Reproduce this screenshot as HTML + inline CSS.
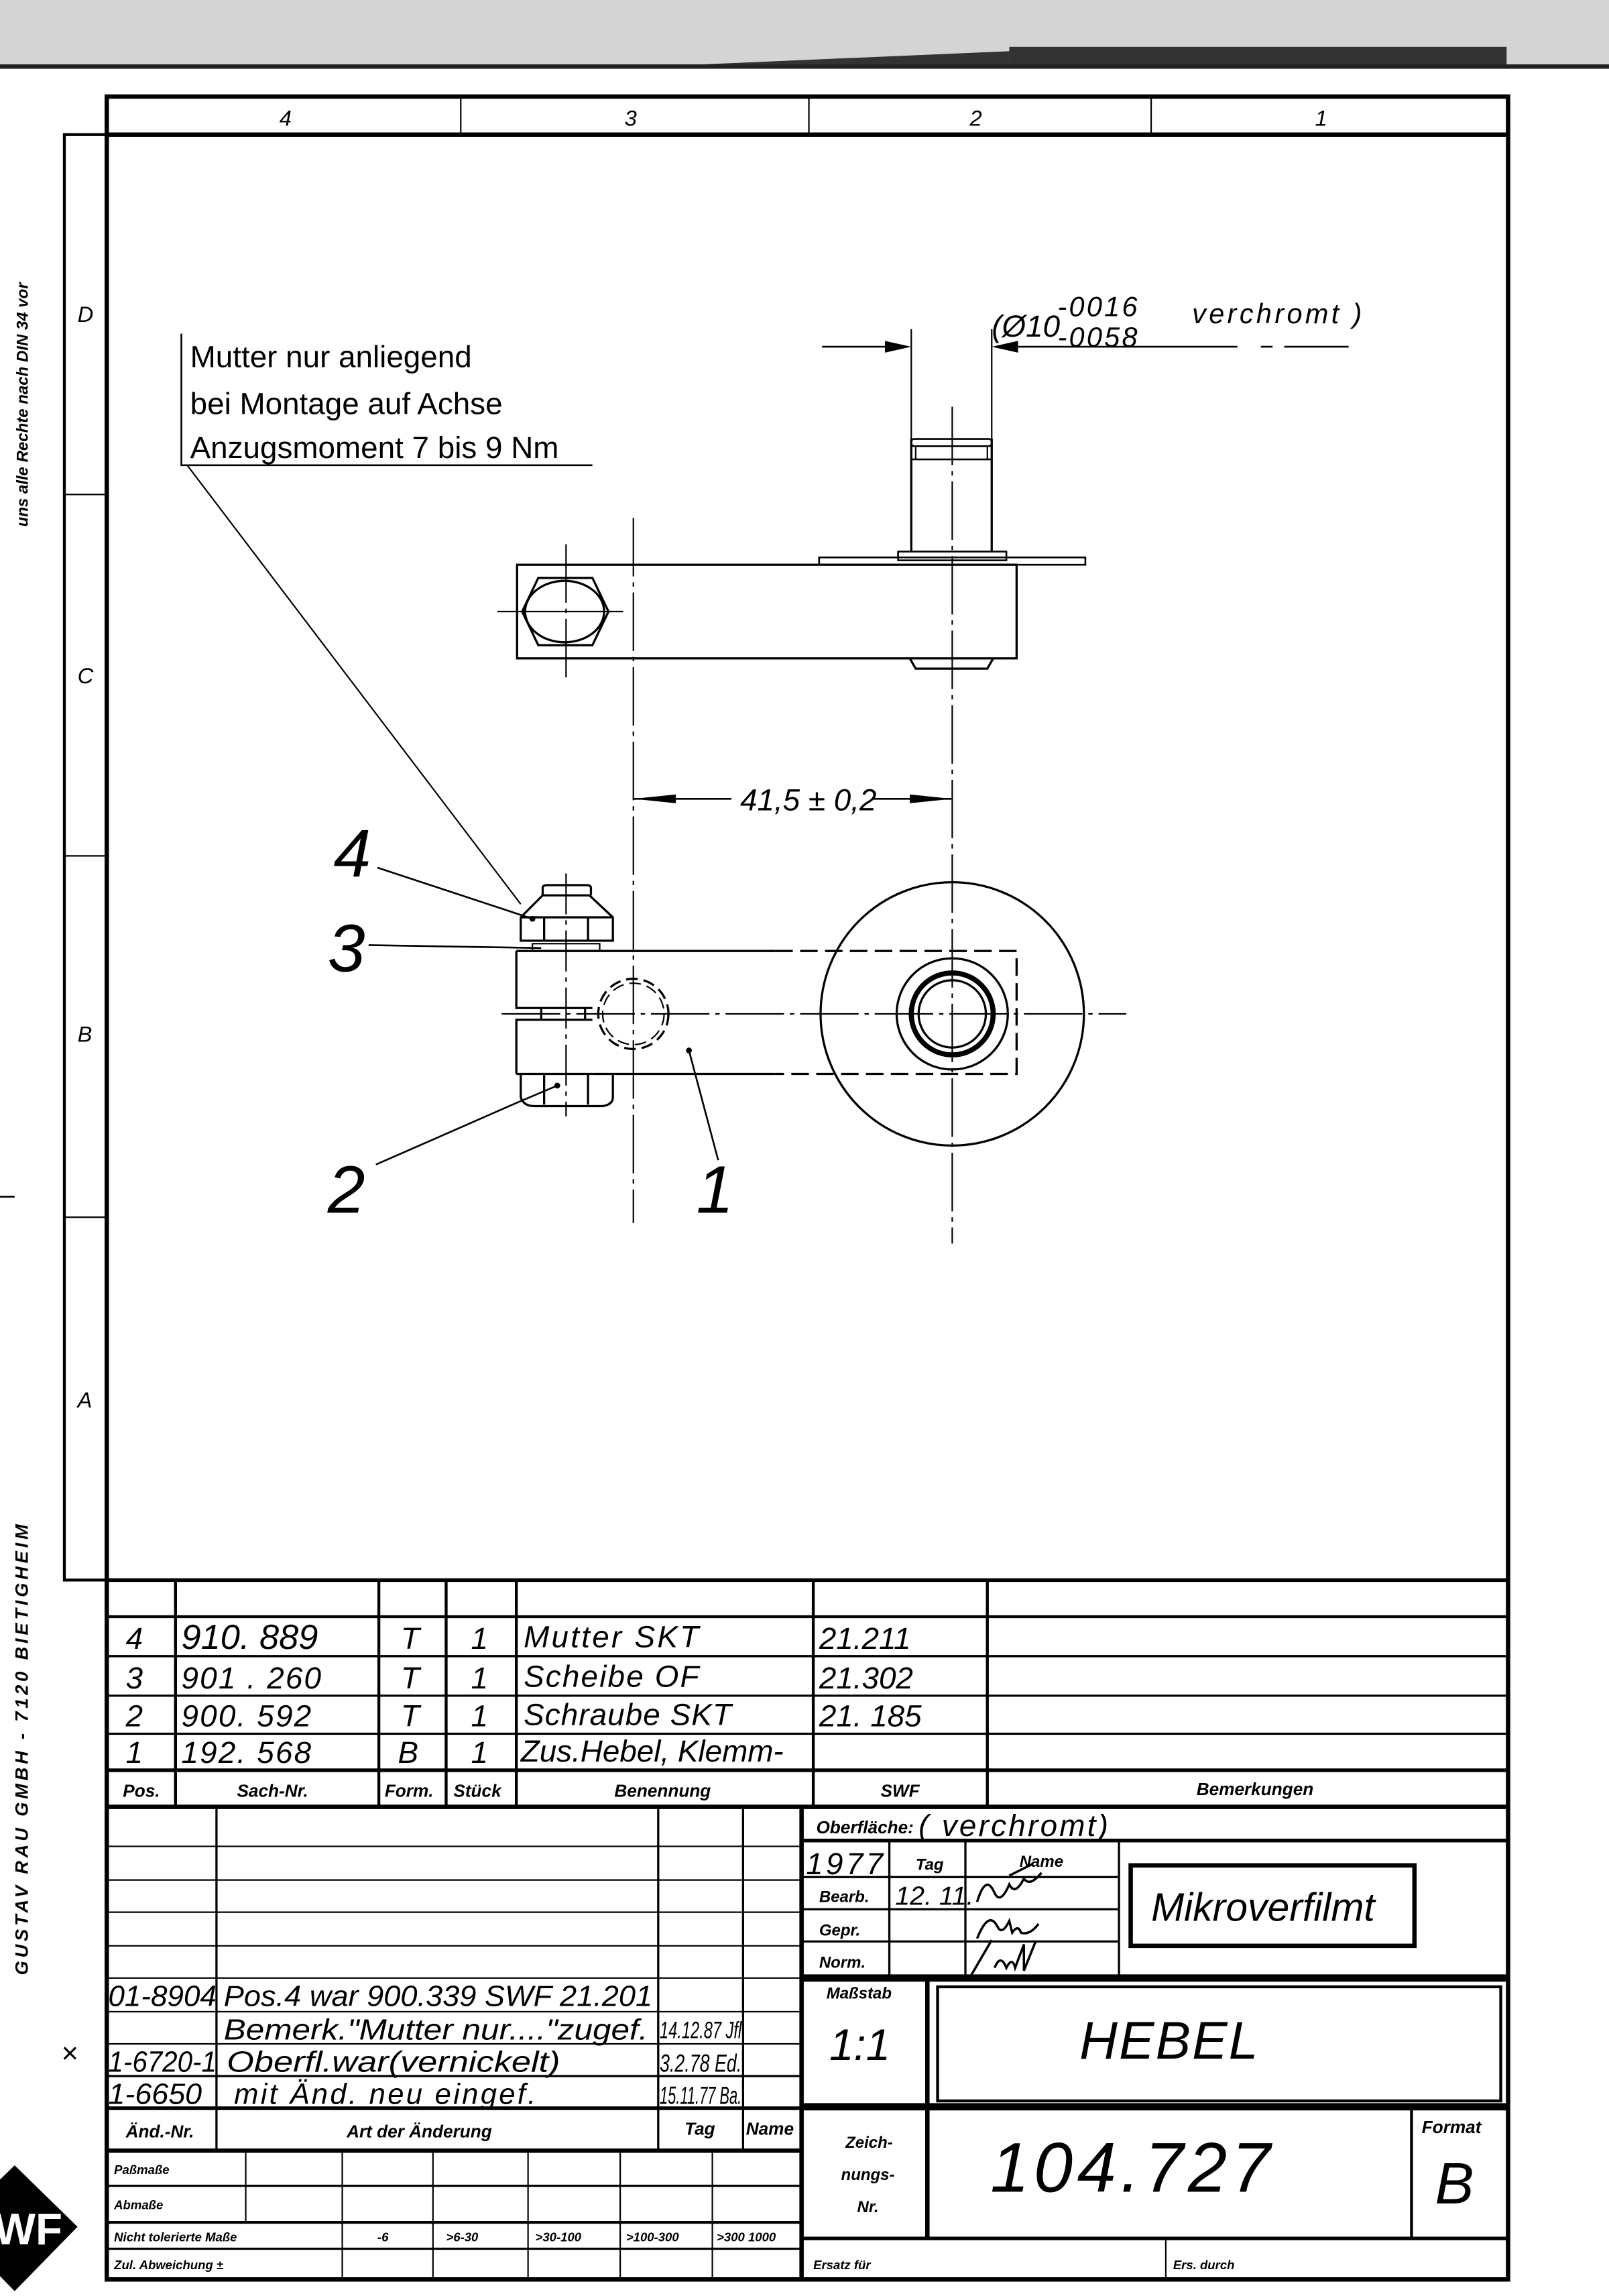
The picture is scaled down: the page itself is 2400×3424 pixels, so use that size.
<!DOCTYPE html>
<html><head><meta charset="utf-8"><style>
html,body{margin:0;padding:0;background:#fff;}
svg{display:block;}
text{font-family:"Liberation Sans",sans-serif;fill:#000;}
.it{font-style:italic;}
.b{font-weight:bold;}
</style></head><body>
<svg width="2400" height="3424" viewBox="0 0 1100 1569.33" xmlns="http://www.w3.org/2000/svg">
<rect x="0" y="0" width="1100" height="1570" fill="#fff"/>
<!-- top scanner band -->
<rect x="0" y="0" width="1100" height="44" fill="#d4d4d4"/>
<rect x="0" y="44" width="1100" height="3" fill="#222"/>
<polygon points="480,44 690,35 690,44" fill="#333"/>
<rect x="690" y="32" width="340" height="12" fill="#333"/>
<!-- side texts -->
<text class="it b" font-size="11" transform="translate(19,360) rotate(-90)">uns alle Rechte nach DIN 34 vor</text>
<text class="it b" font-size="12.5" letter-spacing="2.2" transform="translate(19,1350) rotate(-90)">GUSTAV RAU GMBH - 7120 BIETIGHEIM</text>
<line x1="0" y1="818" x2="10" y2="818" stroke="#000" stroke-width="1.2"/>
<!-- SWF logo -->
<polygon points="10,1480 53,1522 10,1566 -33,1522" fill="#000"/>
<text x="-4" y="1534" font-size="30" font-weight="bold" fill="#fff" style="fill:#fff">WF</text>

<g stroke="#000" fill="none">
<!-- main frame -->
<rect x="73" y="66" width="958" height="1492" stroke-width="3"/>
<line x1="73" y1="92" x2="1031" y2="92" stroke-width="3"/>
<line x1="315" y1="66" x2="315" y2="92" stroke-width="1"/>
<line x1="553" y1="66" x2="553" y2="92" stroke-width="1"/>
<line x1="787" y1="66" x2="787" y2="92" stroke-width="1"/>
<!-- left zone strip -->
<polyline points="73,92 44,92 44,1080 73,1080" stroke-width="2"/>
<line x1="44" y1="338" x2="73" y2="338" stroke-width="1"/>
<line x1="44" y1="585" x2="73" y2="585" stroke-width="1"/>
<line x1="44" y1="832" x2="73" y2="832" stroke-width="1"/>

<!-- parts list -->
<line x1="73" y1="1080" x2="1031" y2="1080" stroke-width="2.5"/>
<line x1="73" y1="1105" x2="1031" y2="1105" stroke-width="2"/>
<line x1="73" y1="1132" x2="1031" y2="1132" stroke-width="1.5"/>
<line x1="73" y1="1159" x2="1031" y2="1159" stroke-width="1.5"/>
<line x1="73" y1="1185" x2="1031" y2="1185" stroke-width="1.5"/>
<line x1="73" y1="1210" x2="1031" y2="1210" stroke-width="2.5"/>
<line x1="73" y1="1235" x2="1031" y2="1235" stroke-width="3"/>
<line x1="120" y1="1080" x2="120" y2="1235" stroke-width="2"/>
<line x1="259" y1="1080" x2="259" y2="1235" stroke-width="2"/>
<line x1="305" y1="1080" x2="305" y2="1235" stroke-width="2"/>
<line x1="353" y1="1080" x2="353" y2="1235" stroke-width="2"/>
<line x1="556" y1="1080" x2="556" y2="1235" stroke-width="2"/>
<line x1="675" y1="1080" x2="675" y2="1235" stroke-width="2"/>

<!-- change block left -->
<line x1="73" y1="1262" x2="548" y2="1262" stroke-width="1"/>
<line x1="73" y1="1285" x2="548" y2="1285" stroke-width="1"/>
<line x1="73" y1="1307" x2="548" y2="1307" stroke-width="1"/>
<line x1="73" y1="1330" x2="548" y2="1330" stroke-width="1"/>
<line x1="73" y1="1352" x2="548" y2="1352" stroke-width="1"/>
<line x1="73" y1="1375" x2="548" y2="1375" stroke-width="1"/>
<line x1="73" y1="1397" x2="548" y2="1397" stroke-width="1"/>
<line x1="73" y1="1419" x2="548" y2="1419" stroke-width="1.5"/>
<line x1="73" y1="1441" x2="548" y2="1441" stroke-width="2.5"/>
<line x1="73" y1="1470" x2="548" y2="1470" stroke-width="3"/>
<line x1="148" y1="1235" x2="148" y2="1470" stroke-width="1.5"/>
<line x1="450" y1="1235" x2="450" y2="1470" stroke-width="1.5"/>
<line x1="508" y1="1235" x2="508" y2="1470" stroke-width="1.5"/>
<line x1="548" y1="1235" x2="548" y2="1558" stroke-width="3"/>
<!-- tolerance grid -->
<line x1="73" y1="1494" x2="548" y2="1494" stroke-width="1.5"/>
<line x1="73" y1="1519" x2="548" y2="1519" stroke-width="2"/>
<line x1="73" y1="1537" x2="548" y2="1537" stroke-width="1.5"/>
<line x1="168" y1="1470" x2="168" y2="1519" stroke-width="1"/>
<line x1="234" y1="1470" x2="234" y2="1558" stroke-width="1"/>
<line x1="296" y1="1470" x2="296" y2="1558" stroke-width="1"/>
<line x1="361" y1="1470" x2="361" y2="1558" stroke-width="1"/>
<line x1="424" y1="1470" x2="424" y2="1558" stroke-width="1"/>
<line x1="487" y1="1470" x2="487" y2="1558" stroke-width="1"/>

<!-- right title block -->
<line x1="548" y1="1258" x2="1031" y2="1258" stroke-width="2.5"/>
<line x1="548" y1="1283" x2="765" y2="1283" stroke-width="1.5"/>
<line x1="548" y1="1305" x2="765" y2="1305" stroke-width="1.5"/>
<line x1="548" y1="1327" x2="765" y2="1327" stroke-width="1.5"/>
<line x1="608" y1="1258" x2="608" y2="1350" stroke-width="1.5"/>
<line x1="660" y1="1258" x2="660" y2="1350" stroke-width="1.5"/>
<line x1="765" y1="1258" x2="765" y2="1350" stroke-width="1.5"/>
<rect x="773" y="1275" width="194" height="55" stroke-width="3"/>
<line x1="548" y1="1352" x2="1031" y2="1352" stroke-width="5"/>
<line x1="548" y1="1440" x2="1031" y2="1440" stroke-width="5"/>
<line x1="634" y1="1352" x2="634" y2="1530" stroke-width="3"/>
<rect x="641" y="1358" width="385" height="78" stroke-width="2"/>
<line x1="965" y1="1440" x2="965" y2="1530" stroke-width="2"/>
<line x1="548" y1="1530" x2="1031" y2="1530" stroke-width="2.5"/>
<line x1="797" y1="1530" x2="797" y2="1558" stroke-width="1"/>
</g>

<!-- zone labels -->
<g class="it" font-size="15">
<text x="191" y="86">4</text><text x="427" y="86">3</text><text x="663" y="86">2</text><text x="899" y="86">1</text>
<text x="53" y="220">D</text><text x="53" y="467">C</text><text x="53" y="712">B</text><text x="53" y="962">A</text>
</g>

<!-- parts list text -->
<g class="it" font-size="21">
<text x="86" y="1127">4</text><text x="124" y="1127" font-size="24">910. 889</text><text x="274" y="1127">T</text><text x="322" y="1127">1</text><text x="358" y="1126" letter-spacing="1.5">Mutter  SKT</text><text x="560" y="1127">21.211</text>
<text x="86" y="1154">3</text><text x="124" y="1154" letter-spacing="1">901 . 260</text><text x="274" y="1154">T</text><text x="322" y="1154">1</text><text x="358" y="1153" letter-spacing="1">Scheibe  OF</text><text x="560" y="1154">21.302</text>
<text x="86" y="1180">2</text><text x="124" y="1180" letter-spacing="1">900. 592</text><text x="274" y="1180">T</text><text x="322" y="1180">1</text><text x="358" y="1179" letter-spacing="0.5">Schraube SKT</text><text x="560" y="1180">21. 185</text>
<text x="86" y="1205">1</text><text x="124" y="1205" letter-spacing="1">192. 568</text><text x="272" y="1205">B</text><text x="322" y="1205">1</text><text x="356" y="1204">Zus.Hebel, Klemm-</text>
</g>
<g class="it b" font-size="12">
<text x="84" y="1228">Pos.</text><text x="162" y="1228">Sach-Nr.</text><text x="263" y="1228">Form.</text><text x="310" y="1228">Stück</text><text x="420" y="1228">Benennung</text><text x="602" y="1228">SWF</text><text x="818" y="1227">Bemerkungen</text>
</g>

<!-- change entries -->
<g class="it" font-size="20">
<text x="74" y="1371" textLength="74" lengthAdjust="spacingAndGlyphs">01-8904</text>
<text x="153" y="1371" textLength="293" lengthAdjust="spacingAndGlyphs">Pos.4 war 900.339 SWF 21.201</text>
<text x="153" y="1394" textLength="290" lengthAdjust="spacingAndGlyphs">Bemerk."Mutter nur...."zugef.</text>
<text x="451" y="1393" font-size="16" textLength="56" lengthAdjust="spacingAndGlyphs">14.12.87 Jfl</text>
<text x="74" y="1416" textLength="74" lengthAdjust="spacingAndGlyphs">1-6720-1</text>
<text x="155" y="1416" textLength="228" lengthAdjust="spacingAndGlyphs">Oberfl.war(vernickelt)</text>
<text x="451" y="1416" font-size="17" textLength="56" lengthAdjust="spacingAndGlyphs">3.2.78 Ed.</text>
<text x="74" y="1438" textLength="64" lengthAdjust="spacingAndGlyphs">1-6650</text>
<text x="160" y="1438" letter-spacing="1.5">mit Änd. neu eingef.</text>
<text x="451" y="1438" font-size="17" textLength="56" lengthAdjust="spacingAndGlyphs">15.11.77 Ba.</text>
</g>
<text x="42" y="1410" font-size="20" fill="#000">×</text>
<g class="it b" font-size="12">
<text x="86" y="1461">Änd.-Nr.</text><text x="237" y="1461">Art der Änderung</text><text x="468" y="1459">Tag</text><text x="510" y="1459">Name</text>
</g>
<g class="it b" font-size="8.5">
<text x="78" y="1486">Paßmaße</text><text x="78" y="1510">Abmaße</text><text x="78" y="1532">Nicht tolerierte Maße</text><text x="78" y="1551">Zul. Abweichung   ±</text>
<text x="258" y="1532">-6</text><text x="305" y="1532">&gt;6-30</text><text x="366" y="1532">&gt;30-100</text><text x="428" y="1532">&gt;100-300</text><text x="490" y="1532">&gt;300 1000</text>
<text x="556" y="1551">Ersatz für</text><text x="802" y="1551">Ers. durch</text>
</g>

<!-- title block text -->
<text x="558" y="1253" class="it b" font-size="12">Oberfläche:</text>
<text x="628" y="1255" class="it" font-size="21" letter-spacing="1.5">( verchromt)</text>
<text x="551" y="1281" class="it" font-size="21" letter-spacing="2">1977</text>
<text x="626" y="1278" class="it b" font-size="11">Tag</text>
<text x="697" y="1276" class="it b" font-size="11">Name</text>
<text x="560" y="1300" class="it b" font-size="11">Bearb.</text>
<text x="612" y="1302" class="it" font-size="18">12. 11.</text>
<text x="560" y="1323" class="it b" font-size="11">Gepr.</text>
<text x="560" y="1345" class="it b" font-size="11">Norm.</text>
<g stroke="#000" stroke-width="1.6" fill="none">
<path d="M668,1300 q6,-20 12,-6 q4,8 10,-6 q4,8 10,-4 q4,6 12,-4 M690,1282 l16,-8"/>
<path d="M668,1325 q8,-20 14,-8 q3,6 8,-4 l2,8 q4,-6 6,0 q6,2 12,-6"/>
<path d="M664,1350 l14,-24 M680,1345 q4,-10 8,0 q4,-8 6,0 l6,-16 l0,18 l8,-20"/>
</g>
<text x="787" y="1313" class="it" font-size="27">Mikroverfilmt</text>
<text x="565" y="1366" class="it b" font-size="11">Maßstab</text>
<text x="567" y="1408" class="it" font-size="30">1:1</text>
<text x="738" y="1407" class="it" font-size="36" letter-spacing="1">HEBEL</text>
<text x="578" y="1468" class="it b" font-size="11">Zeich-</text>
<text x="575" y="1490" class="it b" font-size="11">nungs-</text>
<text x="586" y="1512" class="it b" font-size="11">Nr.</text>
<text x="677" y="1498" class="it" font-size="48" letter-spacing="3">104.727</text>
<text x="972" y="1458" class="it b" font-size="12">Format</text>
<text x="981" y="1506" class="it" font-size="40">B</text>

<!-- drawing -->
<g stroke="#000" fill="none" stroke-width="1.5">
<!-- centerlines -->
<line x1="651" y1="278" x2="651" y2="850" stroke-width="1" stroke-dasharray="40,4,3,4"/>
<line x1="433" y1="354" x2="433" y2="836" stroke-width="1" stroke-dasharray="40,4,3,4"/>
<line x1="387" y1="372" x2="387" y2="465" stroke-width="1" stroke-dasharray="40,4,3,4"/>
<line x1="340" y1="418" x2="426" y2="418" stroke-width="1"/>
<line x1="387" y1="597" x2="387" y2="763" stroke-width="1" stroke-dasharray="28,4,3,4"/>
<line x1="343" y1="693" x2="770" y2="693" stroke-width="1" stroke-dasharray="40,4,3,4"/>
<!-- top view -->
<rect x="353.5" y="386" width="341.5" height="64"/>
<polygon points="368,395 405,395 416,418 405,441 368,441 357,418"/>
<ellipse cx="386" cy="418" rx="27" ry="21"/>
<rect x="560" y="381" width="182" height="5" stroke-width="1.2"/>
<rect x="614" y="377" width="74" height="6" stroke-width="1.2"/>
<line x1="623" y1="300" x2="623" y2="377"/>
<line x1="678" y1="300" x2="678" y2="377"/>
<rect x="623" y="300" width="55" height="5" rx="2" stroke-width="1.2"/>
<line x1="623" y1="314" x2="678" y2="314" stroke-width="1.2"/>
<line x1="626" y1="305" x2="626" y2="314" stroke-width="1"/>
<line x1="675" y1="305" x2="675" y2="314" stroke-width="1"/>
<polyline points="622,450 626,457 675,457 679,450"/>
<!-- dia dimension -->
<line x1="623" y1="225" x2="623" y2="300" stroke-width="1"/>
<line x1="678" y1="225" x2="678" y2="300" stroke-width="1"/>
<line x1="562" y1="237" x2="611" y2="237" stroke-width="1.2"/>
<line x1="690" y1="237" x2="846" y2="237" stroke-width="1.2"/>
<line x1="862" y1="237" x2="870" y2="237" stroke-width="1.2"/>
<line x1="878" y1="237" x2="922" y2="237" stroke-width="1.2"/>
<!-- 41.5 dimension -->
<line x1="433" y1="546" x2="500" y2="546" stroke-width="1.2"/>
<line x1="596" y1="546" x2="651" y2="546" stroke-width="1.2"/>
<!-- front view -->
<circle cx="651" cy="693" r="90"/>
<circle cx="651" cy="693" r="38"/>
<circle cx="651" cy="693" r="28" stroke-width="3.5"/>
<circle cx="651" cy="693" r="23"/>
<path d="M405,650 L530,650 M405,734 L530,734"/>
<path d="M530,650 L695,650 L695,734 L530,734" stroke-dasharray="12,5"/>
<path d="M353,650 L353,689 L405,689 M353,734 L353,697 L405,697"/>
<line x1="353" y1="650" x2="405" y2="650"/>
<line x1="353" y1="734" x2="405" y2="734"/>
<circle cx="433" cy="693" r="24" stroke-dasharray="8,4"/>
<circle cx="433" cy="693" r="21" stroke-dasharray="8,4" stroke-width="1"/>
<line x1="370" y1="689" x2="370" y2="697"/><line x1="400" y1="689" x2="400" y2="697"/>
<!-- nut -->
<path d="M356,627 L371,612 L403,612 L419,627 L419,643 L356,643 Z"/>
<path d="M371,612 L371,607 Q371,605 374,605 L401,605 Q404,605 404,607 L404,612"/>
<line x1="372" y1="627" x2="372" y2="643"/><line x1="402" y1="627" x2="402" y2="643"/>
<line x1="356" y1="627" x2="419" y2="627"/>
<rect x="364" y="645" width="46" height="5" stroke-width="1"/>
<!-- bolt head -->
<path d="M356,734 L356,750 Q358,756 365,756 L412,756 Q419,755 419,750 L419,734"/>
<line x1="372" y1="734" x2="372" y2="755"/><line x1="402" y1="734" x2="402" y2="755"/>
<!-- leaders -->
<line x1="128" y1="318" x2="356" y2="618" stroke-width="1"/>
<line x1="258" y1="593" x2="364" y2="628" stroke-width="1.2"/>
<line x1="252" y1="646" x2="370" y2="648" stroke-width="1.2"/>
<line x1="257" y1="796" x2="355" y2="753" stroke-width="1.2"/>
<line x1="355" y1="753" x2="381" y2="742" stroke-width="1.2"/>
<line x1="471" y1="718" x2="491" y2="793" stroke-width="1.2"/>
<!-- note box lines -->
<polyline points="124,228 124,318 405,318" stroke-width="1.2"/>
</g>
<circle cx="471" cy="718" r="2" fill="#000"/>
<circle cx="364" cy="628" r="2" fill="#000"/>
<circle cx="381" cy="742" r="2" fill="#000"/>
<!-- arrowheads -->
<polygon points="623,237 605,233 605,241" fill="#000"/>
<polygon points="678,237 696,233 696,241" fill="#000"/>
<polygon points="433,546 462,543 462,549" fill="#000"/>
<polygon points="651,546 622,543 622,549" fill="#000"/>

<!-- drawing texts -->
<text x="506" y="554" class="it" font-size="21">41,5 ± 0,2</text>
<text x="678" y="230" class="it" font-size="21">(Ø10</text>
<text x="723" y="216" class="it" font-size="19" letter-spacing="1.5">-0016</text>
<text x="723" y="237" class="it" font-size="19" letter-spacing="1.5">-0058</text>
<text x="815" y="221" class="it" font-size="19" letter-spacing="2">verchromt )</text>
<text x="130" y="251" font-size="21">Mutter nur anliegend</text>
<text x="130" y="283" font-size="21">bei Montage auf Achse</text>
<text x="130" y="313" font-size="21">Anzugsmoment 7 bis 9 Nm</text>
<g class="it" font-size="46">
<text x="228" y="599">4</text>
<text x="224" y="664">3</text>
<text x="224" y="829">2</text>
<text x="476" y="829">1</text>
</g>
</svg>
</body></html>
